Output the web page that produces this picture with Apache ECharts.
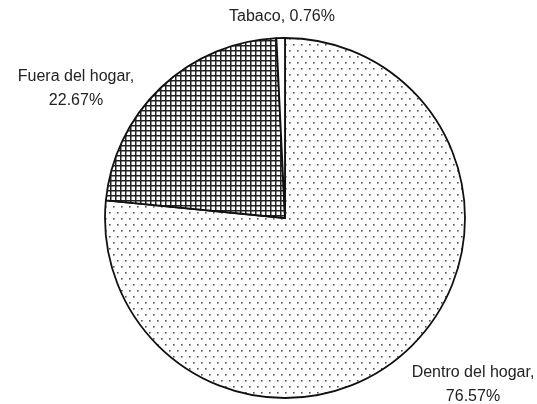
<!DOCTYPE html>
<html>
<head>
<meta charset="utf-8">
<script src="https://cdn.jsdelivr.net/npm/echarts@6/dist/echarts.min.js"></script>
<style>
  html, body { margin: 0; padding: 0; background: #fff; }
  #chart { width: 537px; height: 404px; }
</style>
</head>
<body>
<div id="chart"></div>
<script>
// datos
const categories = ['Dentro del hogar', 'Fuera del hogar', 'Tabaco']
const values = [76.57, 22.67, 0.76]
const labelPos = [[473, 385], [76, 89], [282, 17]]

// tramas (puntos / cuadricula)
function dotPattern() {
  const c = document.createElement('canvas')
  c.width = 8; c.height = 12
  const ctx = c.getContext('2d')
  ctx.fillStyle = '#fff'
  ctx.fillRect(0, 0, 8, 12)
  ctx.fillStyle = '#555'
  ctx.fillRect(1, 2, 1.6, 1.6)
  ctx.fillRect(5, 8, 1.6, 1.6)
  return c
}
function gridPattern() {
  const c = document.createElement('canvas')
  c.width = 5; c.height = 5
  const ctx = c.getContext('2d')
  ctx.fillStyle = '#fff'
  ctx.fillRect(0, 0, 5, 5)
  ctx.fillStyle = '#222'
  ctx.fillRect(0, 0, 5, 1.5)
  ctx.fillRect(0, 0, 1.5, 5)
  return c
}
const fills = [
  {image: dotPattern(), repeat: 'repeat'},
  {image: gridPattern(), repeat: 'repeat'},
  '#ffffff'
]

const chart = echarts.init(document.getElementById('chart'))
const option = {
  backgroundColor: '#fff',
  animation: false,
  series: [
    {
      type: 'pie',
      center: [285, 218],
      radius: 180,
      startAngle: 90,
      clockwise: true,
      data: categories.map((name, i) => ({
        name: name,
        value: values[i],
        itemStyle: {color: fills[i]}
      })),
      itemStyle: {
        borderColor: '#111',
        borderWidth: 1.8
      },
      label: {
        show: true,
        position: 'outside',
        formatter: p => p.name + ',' + (p.dataIndex === 2 ? ' ' : '\n') + values[p.dataIndex].toFixed(2) + '%',
        fontFamily: 'Liberation Sans, Arial, sans-serif',
        fontSize: 16,
        lineHeight: 24,
        color: '#222',
        align: 'center',
        overflow: 'none'
      },
      labelLine: {show: false},
      labelLayout: params => ({
        x: labelPos[params.dataIndex][0],
        y: labelPos[params.dataIndex][1],
        align: 'center',
        verticalAlign: 'middle'
      }),
      emphasis: {disabled: true}
    }
  ]
}
chart.setOption(option)
</script>
</body>
</html>
